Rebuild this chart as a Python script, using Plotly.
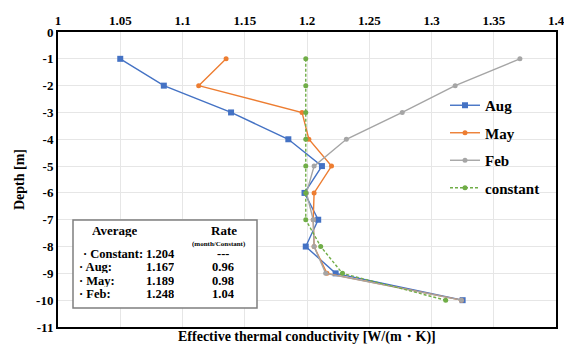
import plotly.graph_objects as go

depth = [-1, -2, -3, -4, -5, -6, -7, -8, -9, -10]
aug = [1.050, 1.085, 1.139, 1.185, 1.212, 1.198, 1.209, 1.199, 1.223, 1.325]
may = [1.135, 1.113, 1.196, 1.2015, 1.2197, 1.2057, 1.205, 1.2057, 1.216, 1.324]
feb = [1.371, 1.319, 1.2765, 1.2316, 1.2057, 1.1996, 1.205, 1.2057, 1.215, 1.324]
constant = [1.199, 1.199, 1.199, 1.199, 1.199, 1.199, 1.199, 1.211, 1.2285, 1.3114]

x_ticks = [1, 1.05, 1.1, 1.15, 1.2, 1.25, 1.3, 1.35, 1.4]
x_labels = ["1", "1.05", "1.1", "1.15", "1.2", "1.25", "1.3", "1.35", "1.4"]
y_ticks = [0, -1, -2, -3, -4, -5, -6, -7, -8, -9, -10, -11]
y_labels = ["0", "-1", "-2", "-3", "-4", "-5", "-6", "-7", "-8", "-9", "-10", "-11"]

table_rows = [
    ("· Constant:", "1.204", "---"),
    ("· Aug:", "1.167", "0.96"),
    ("· May:", "1.189", "0.98"),
    ("· Feb:", "1.248", "1.04"),
]

FONT = "Liberation Serif"
L, R, T, B = 58, 556, 32, 327


def px(x):
    return (x - L) / (R - L)


def py(y):
    return (B - y) / (B - T)


def bfont(size):
    return dict(family=FONT, size=size, color="black", weight="bold")


fig = go.Figure()
series = [("Aug", aug, "#4472C4", "square", "solid", 6),
          ("May", may, "#ED7D31", "circle", "solid", 5),
          ("Feb", feb, "#A5A5A5", "circle", "solid", 5),
          ("constant", constant, "#70AD47", "circle", "3px,2px", 5)]
for name, vals, col, sym, dash, ms in series:
    fig.add_trace(go.Scatter(x=vals, y=depth, name=name, legendgroup=name, mode="lines+markers",
                             line=dict(color=col, width=1.4, dash=dash),
                             marker=dict(symbol=sym, size=ms, color=col)))

fig.update_layout(
    width=564, height=347,
    margin=dict(l=L, r=564 - R, t=T, b=347 - B, autoexpand=False),
    paper_bgcolor="white", plot_bgcolor="white",
    font=bfont(13),
    showlegend=True,
    legend=dict(x=px(445), y=py(89), xanchor="left", yanchor="top",
                font=bfont(15), bgcolor="rgba(0,0,0,0)",
                tracegroupgap=5, itemwidth=30),
)
fig.update_xaxes(range=[1, 1.4], side="top", tickvals=x_ticks, ticktext=x_labels,
                 showgrid=True, gridcolor="#E6E6E6", gridwidth=1,
                 showline=True, linecolor="black", linewidth=2, mirror=True,
                 ticks="", zeroline=False, automargin=False, ticklabeloverflow="allow",
                 tickfont=bfont(13))
fig.update_yaxes(range=[-11, 0], tickvals=y_ticks, ticktext=y_labels,
                 showgrid=True, gridcolor="#E6E6E6", gridwidth=1,
                 showline=True, linecolor="black", linewidth=2, mirror=True,
                 ticks="", zeroline=False, automargin=False, ticklabeloverflow="allow",
                 tickfont=bfont(13),
                 title=dict(text="Depth [m]", font=bfont(14), standoff=8))

# x-axis title at bottom
fig.add_annotation(xref="paper", yref="paper", x=px(307), y=py(337), xanchor="center",
                   yanchor="middle", text="Effective thermal conductivity [W/(m・K)]",
                   showarrow=False, font=bfont(14))

# table box
fig.add_shape(type="rect", xref="paper", yref="paper",
              x0=px(73), x1=px(257), y0=py(308), y1=py(220),
              line=dict(color="#7F7F7F", width=1.5), fillcolor="white", layer="above")


def txt(x, y, text, size, xanchor="center", h=13):
    fig.add_annotation(xref="paper", yref="paper", x=px(x), y=py(y), xanchor=xanchor,
                       yanchor="middle", height=h, text=text, showarrow=False,
                       font=bfont(size))


txt(114, 230, "Average", 13, h=14)
txt(224, 230, "Rate", 13, h=14)
txt(219, 243.5, "(month/Constant)", 7, h=9)
row_y = [253, 266.5, 280, 293.5]
label_x = [81, 77, 77, 77]
for (lab, avg, rate), yy, lx in zip(table_rows, row_y, label_x):
    txt(lx, yy, lab, 12.5, xanchor="left")
    txt(160, yy, avg, 12.5)
    txt(223, yy, rate, 12.5)

fig.write_html("out.html", config={"displayModeBar": False},
               post_script="document.body.style.margin='0';document.body.style.overflow='hidden';")
